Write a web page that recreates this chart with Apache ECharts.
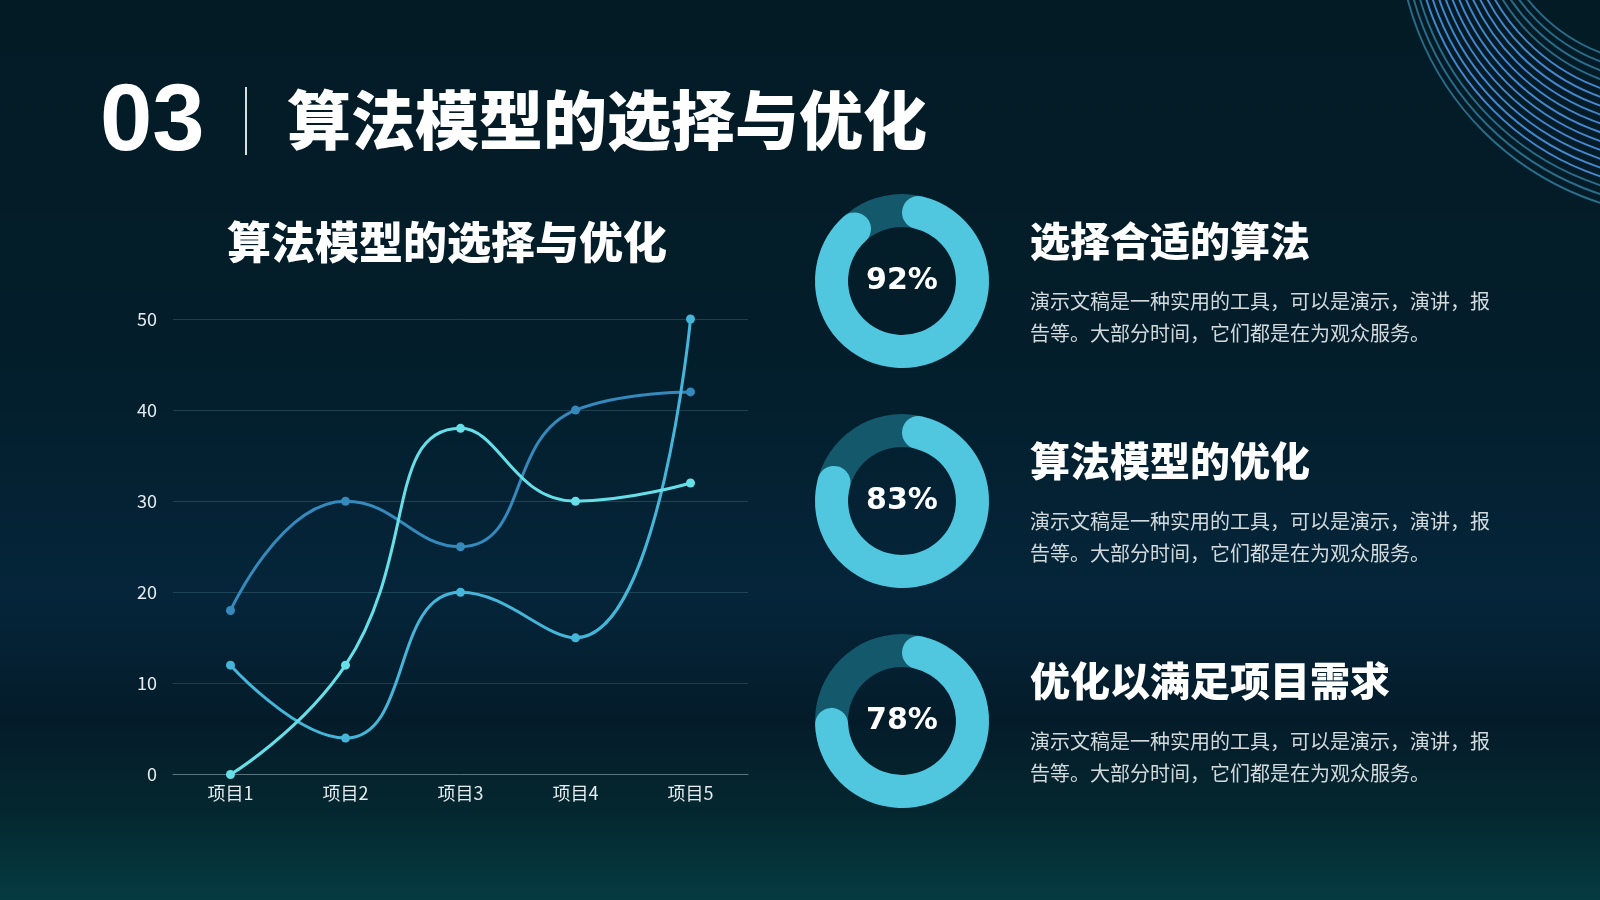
<!DOCTYPE html>
<html>
<head>
<meta charset="utf-8">
<script src="https://cdn.jsdelivr.net/npm/echarts@6/dist/echarts.min.js"></script>
<style>
html,body{margin:0;padding:0;background:#041c26;}
#main{width:1600px;height:900px;}
</style>
</head>
<body>
<div id="main"></div>
<script>
// 数据
var pageNo = '03';
var pageTitle = '算法模型的选择与优化';
var chartTitle = '算法模型的选择与优化';
var categories = ['项目1', '项目2', '项目3', '项目4', '项目5'];
var seriesA = [18, 30, 25, 40, 42];
var seriesB = [12, 4, 20, 15, 50];
var seriesC = [0, 12, 38, 30, 32];
var yTicks = [0, 10, 20, 30, 40, 50];
var percents = [92, 83, 78];
var headings = ['选择合适的算法', '算法模型的优化', '优化以满足项目需求'];
var bodyLine1 = '演示文稿是一种实用的工具，可以是演示，演讲，报';
var bodyLine2 = '告等。大部分时间，它们都是在为观众服务。';

var CJK = '"Noto Sans CJK SC", "Noto Sans", sans-serif';
var myChart = echarts.init(document.getElementById('main'));

var donutY = [281, 501, 721];
var series = [];
var graphic = [];

// 右上角装饰圆弧
for (var i = 0; i < 18; i++) {
	var t = i / 17;
	graphic.push({
		type: 'circle',
		silent: true,
		shape: {
			cx: 1662 + 28 * t,
			cy: -108 + 33 * t,
			r: 172 + 120 * t
		},
		style: {
			fill: 'none',
			stroke: (i < 4 || i > 14) ? 'rgba(52,130,165,0.8)' : 'rgba(76,148,226,0.9)',
			lineWidth: 1.9
		}
	});
}

// 标题
graphic.push({
	type: 'text', left: 100, top: 120 - 43,
	style: { text: pageNo, fill: '#ffffff', font: 'bold 94px "Liberation Sans", sans-serif' }
});
graphic.push({
	type: 'rect', shape: { x: 245, y: 87, width: 2, height: 68 },
	style: { fill: 'rgba(255,255,255,0.85)' }
});
graphic.push({
	type: 'text', left: 287, top: 120 - 32,
	style: { text: pageTitle, fill: '#ffffff', font: '900 64px ' + CJK }
});

// 右侧说明
headings.forEach(function (h, k) {
	graphic.push({
		type: 'text', left: 1030, top: donutY[k] - 38 - 22,
		style: { text: h, fill: '#ffffff', font: '900 40px ' + CJK }
	});
	graphic.push({
		type: 'text', left: 1030, top: donutY[k] + 4,
		style: {
			text: bodyLine1 + '\n' + bodyLine2,
			fill: '#d3dadd',
			font: '20px ' + CJK,
			lineHeight: 32
		}
	});
});

// 折线
var lineColors = ['#3589bd', '#45b6d9', '#67dfe8'];
[seriesA, seriesB, seriesC].forEach(function (d, k) {
	series.push({
		type: 'line',
		data: d,
		smooth: true,
		symbol: 'circle',
		symbolSize: 9,
		lineStyle: { width: 3, color: lineColors[k] },
		itemStyle: { color: lineColors[k] }
	});
});

// 环形图
percents.forEach(function (p, k) {
	series.push({
		type: 'pie',
		silent: true,
		center: [902, donutY[k]],
		radius: [54, 87],
		label: { show: false },
		data: [{ value: 100, itemStyle: { color: '#13596b' } }]
	});
	series.push({
		type: 'pie',
		silent: true,
		center: [902, donutY[k]],
		radius: [54, 87],
		startAngle: 90,
		clockwise: true,
		avoidLabelOverlap: false,
		itemStyle: { borderRadius: 17 },
		data: [
			{
				value: p,
				itemStyle: { color: '#50c6df' },
				label: {
					show: true, position: 'center', formatter: p + '%',
					color: '#ffffff', fontSize: 30, fontWeight: 'bold',
					fontFamily: '"DejaVu Sans", sans-serif'
				}
			},
			{ value: 100 - p, itemStyle: { color: 'transparent' }, label: { show: false } }
		]
	});
});

var option = {
	backgroundColor: {
		type: 'linear', x: 0, y: 0, x2: 0, y2: 1,
		colorStops: [
			{ offset: 0, color: '#031b25' },
			{ offset: 0.4, color: '#031e2b' },
			{ offset: 0.66, color: '#05253a' },
			{ offset: 0.8, color: '#041c2a' },
			{ offset: 0.9, color: '#04272f' },
			{ offset: 1, color: '#063b42' }
		]
	},
	title: {
		text: chartTitle,
		left: 442, top: 237, textAlign: 'center', textVerticalAlign: 'middle',
		textStyle: { color: '#ffffff', fontSize: 44, fontWeight: 900, fontFamily: CJK }
	},
	graphic: graphic,
	grid: { left: 173, right: 852, top: 319, bottom: 125.5, containLabel: false },
	xAxis: {
		type: 'category',
		data: categories,
		axisLine: { lineStyle: { color: '#5a7480', width: 1 } },
		axisTick: { show: false },
		axisLabel: { color: '#e6ecef', fontSize: 18, margin: 10, fontFamily: CJK }
	},
	yAxis: {
		type: 'value',
		min: yTicks[0], max: yTicks[yTicks.length - 1], interval: 10,
		axisLine: { show: false },
		axisTick: { show: false },
		axisLabel: { color: '#e6ecef', fontSize: 18, margin: 16, fontFamily: CJK },
		splitLine: { lineStyle: { color: 'rgba(120,160,175,0.25)', width: 1 } }
	},
	series: series
};
myChart.setOption(option);
</script>
</body>
</html>
